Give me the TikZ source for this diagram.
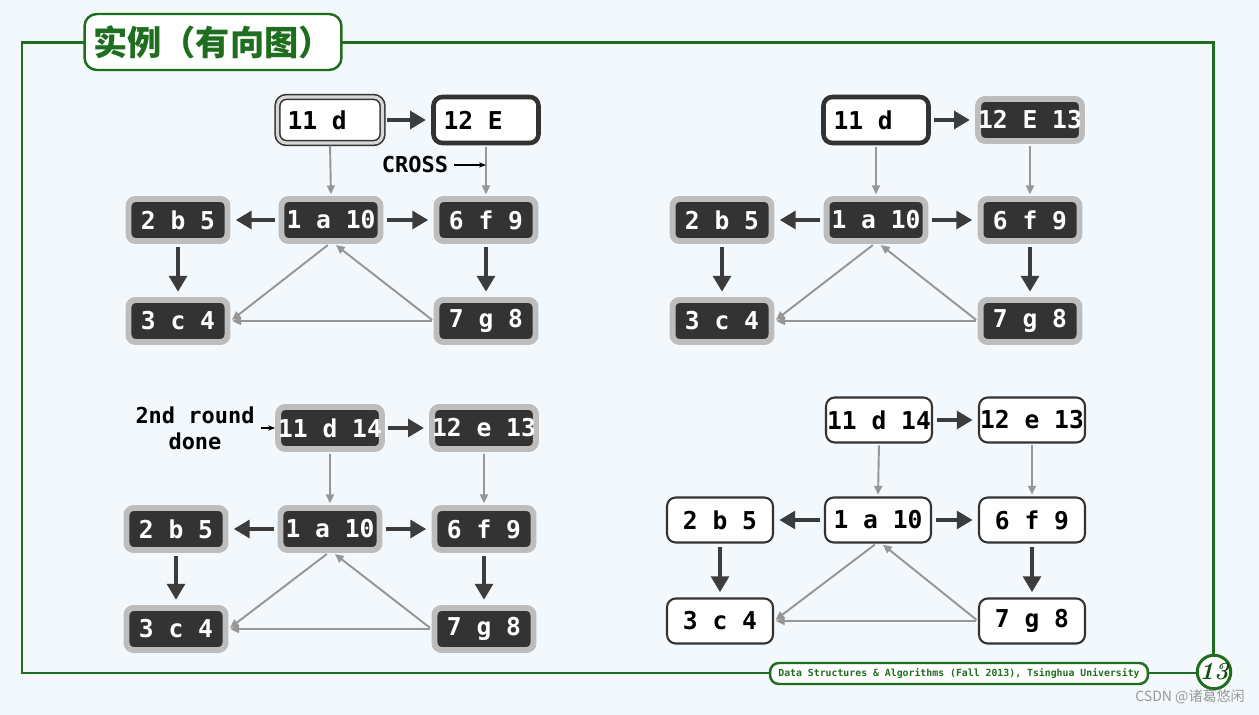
\documentclass[tikz,border=0pt]{standalone}
\usepackage{fontspec}
\setmonofont{DejaVu Sans Mono}
\newfontfamily\cjk{Noto Sans CJK SC}
\usetikzlibrary{arrows.meta}
\definecolor{bgblue}{RGB}{243,248,252}
\definecolor{dsagreen}{RGB}{31,110,31}
\definecolor{visdark}{RGB}{51,51,51}
\definecolor{visgray}{RGB}{189,189,189}
\definecolor{edgegray}{RGB}{150,150,150}
\definecolor{arrowdark}{RGB}{60,60,60}
\newcommand\nodefont{\fontsize{14pt}{16pt}\ttfamily\bfseries}
\newcommand\lbox[1]{\makebox[1.7cm][l]{#1}}
\tikzset{
  vis/.style={draw=visgray, fill=visdark, line width=3.4pt, rounded corners=4pt,
    minimum width=1.98cm, minimum height=0.84cm, inner xsep=0pt, text=white, font=\nodefont},
  cur/.style={draw=visdark, fill=white, line width=2.6pt, rounded corners=5pt,
    minimum width=2.1cm, minimum height=0.92cm, font=\nodefont},
  curdbl/.style={cur, line width=0.9pt, double=visgray!60, double distance=1.8pt},
  new/.style={draw=visdark, fill=white, line width=1.2pt, rounded corners=5pt,
    minimum width=2.12cm, minimum height=0.9cm, inner xsep=0pt, font=\nodefont},
  tree/.style={draw=arrowdark, line width=2.8pt, shorten <=2pt, shorten >=3pt,
    -{Triangle[length=9pt,width=10pt]}},
  nontree/.style={draw=edgegray, line width=1.1pt, shorten <=1pt, shorten >=1pt,
    -{Triangle[length=5pt,width=4.5pt]}},
  note/.style={black, line width=0.6pt, -{Stealth[length=4pt]}},
  notefont/.style={font=\fontsize{12.5pt}{15pt}\ttfamily\bfseries}
}
% edges of one panel, #1 = panel number
\newcommand\dfsedges[1]{%
  \draw[tree] (d#1) -- (e#1);
  \draw[tree] (a#1) -- (b#1);
  \draw[tree] (a#1) -- (f#1);
  \draw[tree] (b#1) -- (c#1);
  \draw[tree] (f#1) -- (g#1);
  \draw[nontree] (d#1.south) -- (a#1.north);
  \draw[nontree] (e#1.south) -- (f#1.north);
  \draw[nontree] ([xshift=-1pt]a#1.south) -- (c#1.east);
  \draw[nontree] (g#1.west) -- ([xshift=2pt]a#1.south);
  \draw[nontree] (g#1.west) -- (c#1.east);
}
\begin{document}
\begin{tikzpicture}[x=0.02cm, y=-0.02cm]
  \fill[bgblue] (0,0) rectangle (1259,715);
  \useasboundingbox (0,0) rectangle (1259,715);

  % frame, title and footer
  \draw[dsagreen, line width=1.7pt] (22,43) rectangle (1213,673);
  \node[draw=dsagreen, fill=white, line width=1.4pt, rounded corners=7pt,
    minimum width=5.14cm, minimum height=1.12cm, text=dsagreen,
    font=\cjk\bfseries\fontsize{19.5pt}{21pt}\selectfont] (title) at (213,42) {实例（有向图）};
  \node[draw=dsagreen, fill=white, line width=1.4pt, rounded corners=5pt,
    minimum width=7.56cm, minimum height=0.42cm, inner ysep=1pt, text=dsagreen,
    font=\fontsize{5.6pt}{6pt}\ttfamily\bfseries] (footer) at (959,673.5)
    {Data Structures \& Algorithms (Fall 2013), Tsinghua University};
  \node[circle, draw=dsagreen, fill=white, line width=1.7pt, minimum size=0.64cm,
    inner sep=0pt, text=dsagreen!70!black, font=\fontsize{14pt}{15pt}\bfseries\itshape] (page) at (1214,672) {13};
  \node[text=gray!80, font=\cjk\fontsize{8pt}{9pt}\selectfont] (mark) at (1190,697) {CSDN @诸葛悠闲};

  % panel 1
  \node[curdbl] (d1) at (330,120) {\lbox{11 d}};
  \node[cur] (e1) at (486,120) {\lbox{12 E}};
  \node[vis] (b1) at (178,220) {2 b 5};
  \node[vis] (a1) at (331,220) {1 a 10};
  \node[vis] (f1) at (486,220) {6 f 9};
  \node[vis] (c1) at (178,321) {3 c 4};
  \node[vis] (g1) at (486,321) {7 g 8};
  \dfsedges{1}
  \node[notefont] (cross) at (415,165) {CROSS};
  \draw[note] (cross.east) -- (cross.east -| e1.south);

  % panel 2
  \begin{scope}[shift={(545,0)}]
    \node[cur] (d2) at (331,120) {\lbox{11 d}};
    \node[vis] (e2) at (485,120) {12 E 13};
    \node[vis] (b2) at (177,220) {2 b 5};
    \node[vis] (a2) at (331,220) {1 a 10};
    \node[vis] (f2) at (485,220) {6 f 9};
    \node[vis] (c2) at (177,321) {3 c 4};
    \node[vis] (g2) at (485,321) {7 g 8};
    \dfsedges{2}
  \end{scope}

  % panel 3
  \begin{scope}[shift={(-1,308)}]
    \node[vis] (d3) at (331,120) {11 d 14};
    \node[vis] (e3) at (485,120) {12 e 13};
    \node[vis] (b3) at (177,221) {2 b 5};
    \node[vis] (a3) at (331,221) {1 a 10};
    \node[vis] (f3) at (485,221) {6 f 9};
    \node[vis] (c3) at (177,321) {3 c 4};
    \node[vis] (g3) at (485,321) {7 g 8};
    \dfsedges{3}
    \node[notefont, align=center] (round) at (196,120) {2nd round\\done};
    \draw[note] (round.east) -- (d3.west);
  \end{scope}

  % panel 4
  \begin{scope}[shift={(546,300)}]
    \node[new] (d4) at (333,120) {11 d 14};
    \node[new] (e4) at (486,120) {12 e 13};
    \node[new] (b4) at (174,220) {2 b 5};
    \node[new] (a4) at (332,220) {1 a 10};
    \node[new] (f4) at (486,220) {6 f 9};
    \node[new] (c4) at (174,321) {3 c 4};
    \node[new] (g4) at (486,321) {7 g 8};
    \dfsedges{4}
  \end{scope}
\end{tikzpicture}
\end{document}
